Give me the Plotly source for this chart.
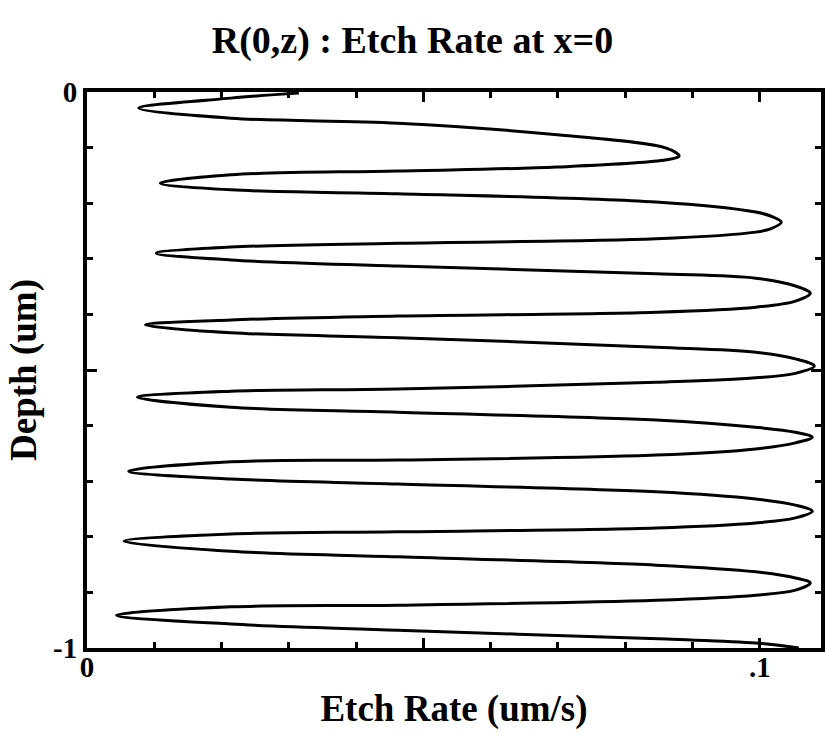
import plotly.graph_objects as go

# Etch rate R (um/s) along the curve
rate = [
    0.0315, 0.0214, 0.0077,
    0.0214, 0.0462, 0.0699, 0.0861, 0.0880, 0.0861, 0.0699, 0.0462, 0.0214, 0.0109,
    0.0214, 0.0462, 0.0846, 0.0994, 0.1016, 0.1032, 0.1016, 0.0994, 0.0846, 0.0462, 0.0214, 0.0103,
    0.0214, 0.0462, 0.0846, 0.0994, 0.1053, 0.1075, 0.1053, 0.0994, 0.0846, 0.0462, 0.0214, 0.0087,
    0.0214, 0.0462, 0.0846, 0.0994, 0.1053, 0.1081, 0.1053, 0.0994, 0.0846, 0.0462, 0.0214, 0.0075,
    0.0214, 0.0462, 0.0846, 0.0994, 0.1053, 0.1078, 0.1053, 0.0994, 0.0846, 0.0462, 0.0214, 0.0062,
    0.0214, 0.0462, 0.0846, 0.0994, 0.1053, 0.1078, 0.1053, 0.0994, 0.0846, 0.0462, 0.0214, 0.0055,
    0.0214, 0.0462, 0.0846, 0.0994, 0.1053, 0.1075, 0.1053, 0.0994, 0.0846, 0.0462, 0.0214, 0.0044,
    0.0214, 0.0462, 0.0861, 0.0994, 0.1058,
]
# Depth z (um) for each point
depth = [
    -0.002, -0.011, -0.029,
    -0.047, -0.056, -0.077, -0.101, -0.115, -0.122, -0.135, -0.142, -0.149, -0.164,
    -0.176, -0.183, -0.198, -0.216, -0.223, -0.234, -0.246, -0.252, -0.264, -0.272, -0.279, -0.290,
    -0.302, -0.313, -0.327, -0.335, -0.349, -0.362, -0.376, -0.387, -0.396, -0.403, -0.410, -0.419,
    -0.433, -0.442, -0.459, -0.468, -0.480, -0.493, -0.506, -0.514, -0.522, -0.534, -0.538, -0.549,
    -0.567, -0.576, -0.590, -0.603, -0.612, -0.621, -0.631, -0.642, -0.653, -0.662, -0.665, -0.682,
    -0.696, -0.705, -0.719, -0.732, -0.743, -0.754, -0.766, -0.775, -0.784, -0.791, -0.795, -0.808,
    -0.826, -0.836, -0.851, -0.863, -0.874, -0.883, -0.896, -0.905, -0.914, -0.923, -0.926, -0.941,
    -0.957, -0.968, -0.984, -0.991, -1.000,
]

x_major = [0, 0.05, 0.1]
x_major_text = ["0", "", ".1"]
x_minor = [0.01, 0.02, 0.03, 0.04, 0.06, 0.07, 0.08, 0.09]
y_major = [0, -0.5, -1]
y_major_text = ["0", "", "-1"]
y_minor = [-0.1, -0.2, -0.3, -0.4, -0.6, -0.7, -0.8, -0.9]

serif = "Liberation Serif"

fig = go.Figure()
fig.add_trace(go.Scatter(
    x=rate, y=depth, mode="lines",
    line=dict(color="black", width=3, shape="spline", smoothing=1.0),
    showlegend=False, hoverinfo="skip",
))

tickfont = dict(family=serif, size=29, color="black", weight="bold")

fig.update_layout(
    width=825, height=733,
    margin=dict(l=87, r=0, t=92, b=85),
    paper_bgcolor="white", plot_bgcolor="white",
    title=dict(text="R(0,z) : Etch Rate at x=0", x=0.5, xanchor="center",
               y=1 - 40 / 733, yanchor="middle",
               font=dict(family=serif, size=38, color="black", weight="bold")),
    xaxis=dict(
        range=[0, 0.1091], showgrid=False, zeroline=False,
        showline=True, linecolor="black", linewidth=4, mirror="ticks",
        tickmode="array", tickvals=x_major, ticktext=x_major_text,
        ticks="inside", ticklen=10, tickwidth=3, tickcolor="black",
        minor=dict(tickmode="array", tickvals=x_minor, ticks="inside",
                   ticklen=6, tickwidth=3, tickcolor="black", showgrid=False),
        tickfont=tickfont, ticklabelstandoff=-10,
        title=dict(text="Etch Rate (um/s)", standoff=14,
                   font=dict(family=serif, size=37, color="black", weight="bold")),
    ),
    yaxis=dict(
        range=[-1, 0], showgrid=False, zeroline=False,
        showline=True, linecolor="black", linewidth=4, mirror="ticks",
        tickmode="array", tickvals=y_major, ticktext=y_major_text,
        ticks="inside", ticklen=10, tickwidth=3, tickcolor="black",
        minor=dict(tickmode="array", tickvals=y_minor, ticks="inside",
                   ticklen=6, tickwidth=3, tickcolor="black", showgrid=False),
        tickfont=tickfont, ticklabelstandoff=0,
        title=dict(text="Depth (um)", standoff=6,
                   font=dict(family=serif, size=37, color="black", weight="bold")),
    ),
)

fig.write_html("out.html")
